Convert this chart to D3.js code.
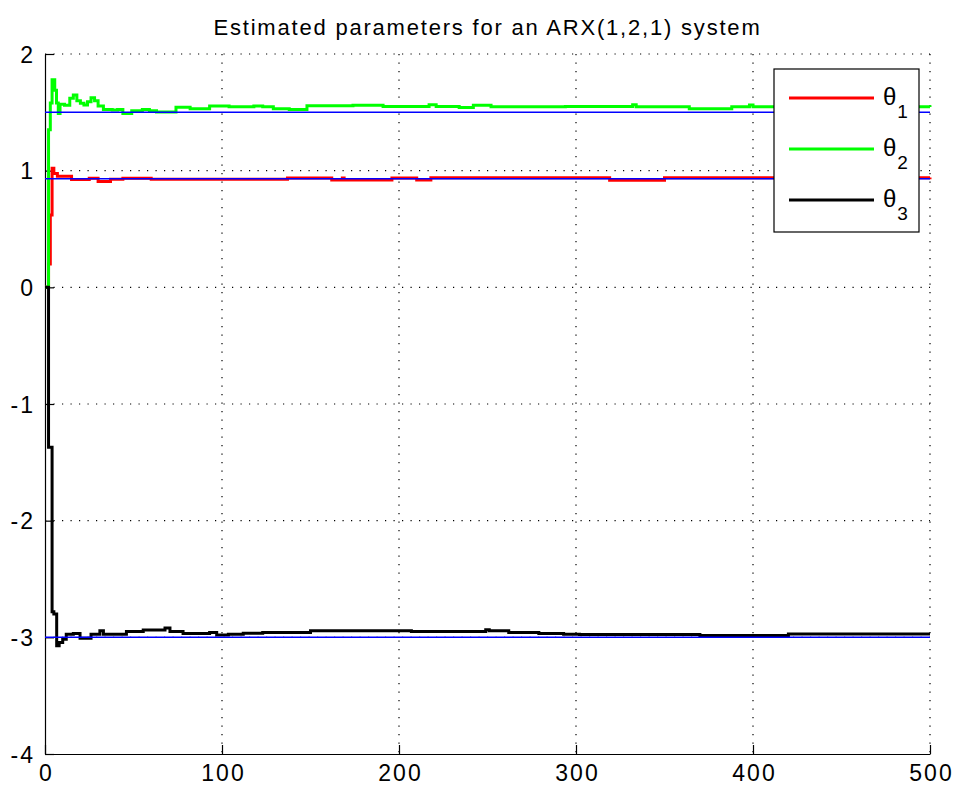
<!DOCTYPE html>
<html>
<head>
<meta charset="utf-8">
<script src="https://cdn.jsdelivr.net/npm/d3@7"></script>
<style>
  body { margin: 0; background: #fff; }
  svg { display: block; font-family: "Liberation Sans", Arial, Helvetica, sans-serif; }
</style>
</head>
<body>
<div id="chart"></div>
<script>
// x ticks / y ticks
const xTicks = [0, 100, 200, 300, 400, 500];
const yTicks = [-4, -3, -2, -1, 0, 1, 2];

// true parameter values (blue reference lines)
const trueValues = [0.93, 1.5, -3];

// estimated parameters, [sample, value] (step changes)
const theta1 = [
  [0, 0], [2, 0.2], [3, 0.62], [4, 1.02], [5, 0.975], [7, 0.952], [15, 0.924],
  [25, 0.935], [30, 0.908], [37, 0.926], [44, 0.936], [60, 0.927], [137, 0.938],
  [162, 0.92], [168, 0.938], [169, 0.921], [196, 0.937], [210, 0.92], [218, 0.94],
  [319, 0.918], [350, 0.94], [500, 0.942]
];
const theta2 = [
  [0, 0], [2, 1.35], [3, 1.58], [4, 1.78], [5.5, 1.69], [6.5, 1.58], [7.5, 1.49],
  [8.5, 1.57], [11, 1.56], [14, 1.62], [16, 1.648], [18, 1.6], [20, 1.577],
  [22, 1.562], [24, 1.59], [26, 1.625], [28, 1.6], [30, 1.555], [33, 1.525],
  [38, 1.52], [41, 1.525], [44, 1.49], [49, 1.513], [55, 1.525], [59, 1.513],
  [63, 1.503], [74, 1.543], [82, 1.53], [93, 1.554], [104, 1.548], [118, 1.554],
  [123, 1.548], [129, 1.53], [138, 1.525], [148, 1.557], [174, 1.56], [191, 1.551],
  [217, 1.565], [221, 1.551], [234, 1.542], [242, 1.56], [252, 1.548], [294, 1.551],
  [332, 1.565], [334, 1.548], [364, 1.53], [388, 1.548], [398, 1.562], [400, 1.548],
  [500, 1.545]
];
const theta3 = [
  [0, 0], [2, -1.37], [4, -2.78], [5, -2.8], [6.6, -3.073], [8, -3.044], [10, -3.016],
  [12, -2.974], [16, -2.967], [19.8, -3.007], [26, -2.973], [31, -2.944], [33, -2.973],
  [46, -2.95], [55.5, -2.938], [67.8, -2.921], [70.6, -2.95], [78, -2.967], [93, -2.959],
  [97, -2.979], [103.6, -2.973], [112, -2.964], [123, -2.959], [150, -2.944], [207, -2.95],
  [249, -2.935], [251, -2.944], [262, -2.959], [279, -2.967], [293, -2.973], [302, -2.976],
  [370, -2.985], [420, -2.972], [500, -2.972]
];

const seriesNames = ["\u03b81", "\u03b82", "\u03b83"];
const seriesColors = ["#ff0000", "#00ff00", "#000000"];

const width = 957, height = 787;
const margin = {top: 54, right: 27, bottom: 33, left: 45};
const w = width - margin.left - margin.right;
const h = height - margin.top - margin.bottom;

const svg = d3.select("#chart").append("svg")
  .attr("width", width)
  .attr("height", height);

const g = svg.append("g")
  .attr("transform", `translate(${margin.left},${margin.top})`);

const x = d3.scaleLinear().domain([0, 500]).range([0, w]);
const y = d3.scaleLinear().domain([-4, 2]).range([h, 0]);

// dotted grid
g.append("g")
  .selectAll("line")
  .data(xTicks.slice(1))
  .join("line")
  .attr("x1", d => x(d)).attr("x2", d => x(d))
  .attr("y1", 0).attr("y2", h)
  .attr("stroke", "#000")
  .attr("stroke-width", 1.2)
  .attr("stroke-dasharray", "1.2,7.3");
g.append("g")
  .selectAll("line")
  .data(yTicks.slice(1))
  .join("line")
  .attr("x1", 0).attr("x2", w)
  .attr("y1", d => y(d)).attr("y2", d => y(d))
  .attr("stroke", "#000")
  .attr("stroke-width", 1.2)
  .attr("stroke-dasharray", "1.2,7.3");

// axes (ticks inward), plain hyphen for negatives like the original
const plain = d => String(d);
const xAxis = g.append("g")
  .attr("transform", `translate(0,${h})`)
  .call(d3.axisBottom(x).tickValues(xTicks).tickFormat(plain)
    .tickSize(-9).tickPadding(11).tickSizeOuter(0));
const yAxis = g.append("g")
  .call(d3.axisLeft(y).tickValues(yTicks).tickFormat(plain)
    .tickSize(-9).tickPadding(10).tickSizeOuter(0));

[xAxis, yAxis].forEach(a => {
  a.select(".domain").attr("stroke", "#000").attr("stroke-width", 1.2);
  a.selectAll(".tick line").attr("stroke", "#000").attr("stroke-width", 1.2);
  a.selectAll(".tick text")
    .attr("fill", "#000")
    .style("font-size", "23px")
    .style("letter-spacing", "2px")
    .style("font-family", "'Liberation Sans', Arial, sans-serif");
});
yAxis.selectAll(".tick text").attr("dy", "0.36em");
xAxis.selectAll(".tick text").attr("dx", "1px");

// estimate lines
const line = d3.line()
  .x(d => x(d[0]))
  .y(d => y(d[1]))
  .curve(d3.curveStepAfter);

[theta1, theta2, theta3].forEach((s, i) => {
  g.append("path")
    .datum(s)
    .attr("fill", "none")
    .attr("stroke", seriesColors[i])
    .attr("stroke-width", 3)
    .attr("d", line);
});

// true value lines
g.append("g")
  .selectAll("line")
  .data(trueValues)
  .join("line")
  .attr("x1", x(0)).attr("x2", x(500))
  .attr("y1", d => y(d)).attr("y2", d => y(d))
  .attr("stroke", "#0000ff")
  .attr("stroke-width", 1.5);

// title
svg.append("text")
  .attr("x", margin.left + w / 2)
  .attr("y", 35)
  .attr("text-anchor", "middle")
  .style("font-size", "22px")
  .style("letter-spacing", "1.8px")
  .text("Estimated parameters for an ARX(1,2,1) system");

// legend
const legend = svg.append("g").attr("transform", "translate(774,69)");
legend.append("rect")
  .attr("width", 145).attr("height", 163)
  .attr("fill", "#fff")
  .attr("stroke", "#000")
  .attr("stroke-width", 1.2);

seriesNames.forEach((name, i) => {
  const ly = 29 + i * 51;
  legend.append("line")
    .attr("x1", 15).attr("x2", 100)
    .attr("y1", ly).attr("y2", ly)
    .attr("stroke", seriesColors[i])
    .attr("stroke-width", 3);
  const t = legend.append("text")
    .attr("x", 109)
    .attr("y", ly + 7)
    .style("font-size", "24px");
  t.append("tspan").text("\u03b8");
  t.append("tspan")
    .attr("dy", 13)
    .attr("dx", 1)
    .style("font-size", "19px")
    .text(name.slice(1));
});
</script>
</body>
</html>
